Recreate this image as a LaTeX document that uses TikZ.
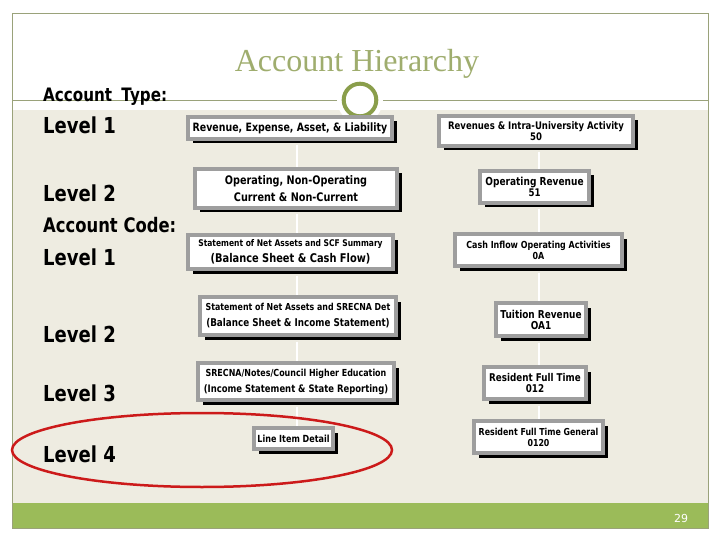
\documentclass[tikz,border=0pt]{standalone}
\usepackage{fontspec}
\usepackage{xcolor}
\newfontfamily\tahoma[FakeStretch=0.82]{DejaVu Sans}
\newfontfamily\titlefont{Liberation Serif}
\newfontfamily\numfont{DejaVu Sans}
\usetikzlibrary{shadows}
\definecolor{frameline}{HTML}{9AA27A}
\definecolor{titlegreen}{HTML}{9FAD6E}
\definecolor{ringgreen}{HTML}{8A9E4B}
\definecolor{slidebg}{HTML}{EEECE1}
\definecolor{bargreen}{HTML}{9BBB59}
\definecolor{boxgray}{HTML}{9E9E9E}
\definecolor{markred}{HTML}{CC1A1A}
\newcommand{\fsz}[1]{\fontsize{#1}{12}\selectfont}

\begin{document}
\begin{tikzpicture}[x=1pt, y=-1pt,
    acct/.style={draw=boxgray, line width=4pt, fill=white, inner sep=1pt, align=center,
        font=\tahoma\bfseries\fontsize{10}{12}\selectfont,
        drop shadow={shadow xshift=4.5pt, shadow yshift=-4.5pt, fill=black, opacity=1}},
    lvl/.style={anchor=base west, inner sep=0pt, font=\tahoma\bfseries\fontsize{22}{26}\selectfont},
    hdr/.style={anchor=base west, inner sep=0pt, font=\tahoma\bfseries\fontsize{18.5}{20}\selectfont},
    link/.style={white, line width=2pt}]
        \useasboundingbox (0,0) rectangle (720,540);
        \fill[white] (0,0) rectangle (720,540);
        \fill[slidebg] (12,110) rectangle (708,503);
        \fill[bargreen] (12,503) rectangle (708,528);
        \draw[frameline, line width=0.8pt] (12,13) rectangle (708,528);
        \draw[frameline, line width=0.8pt] (12,100) -- (708,100);
        \fill[white] (360,100) circle (23pt);
        \draw[ringgreen, line width=4pt, fill=white] (360,100) circle (16.3pt);
        \node(title) [anchor=base, text=titlegreen, font=\titlefont\fontsize{32}{36}\selectfont] at (357,72) {Account Hierarchy};

        \coordinate(lx) at (297,0);
        \coordinate(rx) at (539,0);

        \node[acct, minimum width=204pt, minimum height=22pt](l1) at (290,128) {\fsz{11.5}Revenue, Expense, Asset, \& Liability};
        \node[acct, minimum width=202pt, minimum height=39pt](l2) at (296,188.5) {\fsz{11.8}Operating, Non-Operating\\[5pt]\fsz{11.8}Current \& Non-Current};
        \node[acct, minimum width=205pt, minimum height=34pt](l3) at (290.5,252) {\fsz{9.2}Statement of Net Assets and SCF Summary\\[4pt]\fsz{12}(Balance Sheet \& Cash Flow)};
        \node[acct, minimum width=196pt, minimum height=38pt](l4) at (298,316) {\fsz{9.6}Statement of Net Assets and SRECNA Det\\[4pt]\fsz{10.7}(Balance Sheet \& Income Statement)};
        \node[acct, minimum width=196pt, minimum height=37pt](l5) at (296,381.5) {\fsz{9.7}SRECNA/Notes/Council Higher Education\\[4pt]\fsz{10.3}(Income Statement \& State Reporting)};
        \node[acct, minimum width=79pt, minimum height=21pt](l6) at (293.5,438.5) {\fsz{9.8}Line Item Detail};

        \node[acct, minimum width=194pt, minimum height=30pt](r1) at (536,131) {\fsz{10.4}Revenues \& Intra-University Activity\\[-1pt]\fsz{10.4}50};
        \node[acct, minimum width=109pt, minimum height=32pt](r2) at (534.5,187) {\fsz{11}Operating Revenue\\[-1pt]\fsz{10.5}51};
        \node[acct, minimum width=167pt, minimum height=32pt](r3) at (538.5,250) {\fsz{9.7}Cash Inflow Operating Activities\\[-1pt]\fsz{9.7}0A};
        \node[acct, minimum width=90pt, minimum height=33pt](r4) at (541,319.5) {\fsz{10.9}Tuition Revenue\\[-1pt]\fsz{10.9}OA1};
        \node[acct, minimum width=102pt, minimum height=32pt](r5) at (535,383) {\fsz{10.7}Resident Full Time\\[-1pt]\fsz{10.7}012};
        \node[acct, minimum width=129pt, minimum height=32pt](r6) at (538.5,437) {\fsz{9.6}Resident Full Time General\\[-1pt]\fsz{9.6}0120};

        \draw[link](l1.south -| lx)++(0,4.5)--(l2.north -| lx);
        \draw[link](l2.south -| lx)++(0,4.5)--(l3.north -| lx);
        \draw[link](l3.south -| lx)++(0,4.5)--(l4.north -| lx);
        \draw[link](l4.south -| lx)++(0,4.5)--(l5.north -| lx);
        \draw[link](l5.south -| lx)++(0,4.5)--(l6.north -| lx);
        \draw[link](r1.south -| rx)++(0,4.5)--(r2.north -| rx);
        \draw[link](r2.south -| rx)++(0,4.5)--(r3.north -| rx);
        \draw[link](r3.south -| rx)++(0,4.5)--(r4.north -| rx);
        \draw[link](r4.south -| rx)++(0,4.5)--(r5.north -| rx);
        \draw[link](r5.south -| rx)++(0,4.5)--(r6.north -| rx);

        \node[hdr](acctype) at (43,102) {Account\hspace{0.5em}Type:};
        \node[lvl](lvA) at (43,134) {Level 1};
        \node[lvl](lvB) at (43,202) {Level 2};
        \node[hdr, font=\tahoma\bfseries\fontsize{20}{22}\selectfont](acccode) at (43,233) {Account Code:};
        \node[lvl](lvC) at (43,265) {Level 1};
        \node[lvl](lvD) at (43,342) {Level 2};
        \node[lvl](lvE) at (43,401) {Level 3};
        \node[lvl](lvF) at (43,462) {Level 4};

        \draw[markred, line width=2.5pt] (202,450) ellipse [x radius=190pt, y radius=37pt];
        \node(pagenum) [text=white, font=\numfont\fontsize{11}{13}\selectfont] at (681,518) {29};
        \end{tikzpicture}
\end{document}
